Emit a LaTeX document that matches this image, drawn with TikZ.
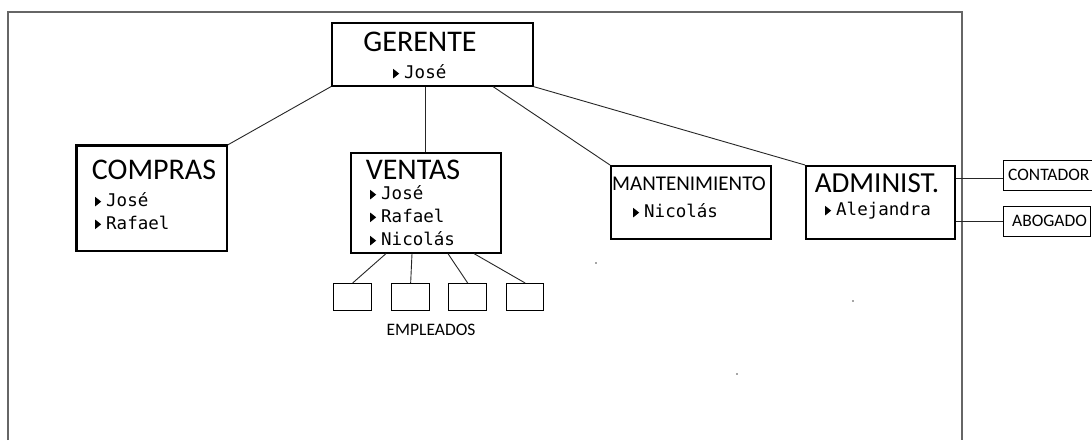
\documentclass[tikz,border=0pt]{standalone}
\usepackage{fontspec}
\setmainfont{Carlito}
\newfontfamily\monof{DejaVu Sans Mono}
\usetikzlibrary{calc}
\newcommand\bul{\tikz[baseline=0pt]{\fill[black] (0pt,0.5pt) -- (0pt,10pt) -- (6pt,5.25pt) -- cycle;}\hspace{5pt}}
\tikzset{
  box/.style={draw=black, line width=1.6pt, anchor=north west, inner sep=0pt, fill=white},
  emp/.style={draw=black, line width=1.3pt, anchor=north west, inner sep=0pt, minimum width=38pt, minimum height=27pt},
  ttl/.style={inner sep=0pt, font=\fontsize{30}{30}\selectfont},
  itm/.style={inner sep=0pt, anchor=west, font=\monof\fontsize{17.5}{17.5}\selectfont},
  small/.style={inner sep=0pt, font=\fontsize{17.5}{17.5}\selectfont},
  conn/.style={draw=black!85, line width=0.9pt},
}
\begin{document}
\begin{tikzpicture}[x=1pt,y=-1pt]
\useasboundingbox (0,0) rectangle (1092,440);
\fill[white] (0,0) rectangle (1092,440);
% outer frame
\draw[black!60, line width=1.4pt] (8,440) -- (8,12) -- (962,12) -- (962,440);
% boxes
\node[box, minimum width=201pt, minimum height=63pt] (ger) at (331,22) {};
\node[box, minimum width=150pt, minimum height=105pt] (comp) at (76,145) {};
\draw[line width=2.6pt] (comp.south west) -- (comp.north west) -- (comp.north east);
\node[box, minimum width=150pt, minimum height=100pt] (ven) at (350,152) {};
\node[box, minimum width=160pt, minimum height=73pt] (mant) at (610,165) {};
\node[box, minimum width=149pt, minimum height=73pt] (adm) at (805,165) {};
\node[box, line width=1.2pt, minimum width=100pt, minimum height=30pt] (cont) at (1003,160) {};
\node[box, line width=1.2pt, minimum width=87pt, minimum height=30pt] (abo) at (1003,206) {};
% employee boxes
\node[emp] (e1) at (333,283) {};
\node[emp] (e2) at (391,283) {};
\node[emp] (e3) at (448,283) {};
\node[emp, minimum width=37pt] (e4) at (506,283) {};
% texts
\node[ttl] (tger) at (420,42) {GERENTE};
\node[itm] (iger) at (393,72) {\bul José};
\node[ttl] (tcomp) at (154,170) {COMPRAS};
\node[itm] (icomp1) at (95,200) {\bul José};
\node[itm] (icomp2) at (95,223) {\bul Rafael};
\node[ttl] (tven) at (413,170) {VENTAS};
\node[itm] (iven1) at (370,193) {\bul José};
\node[itm] (iven2) at (370,216) {\bul Rafael};
\node[itm] (iven3) at (370,239) {\bul Nicolás};
\node[inner sep=0pt, font=\fontsize{21}{21}\selectfont] (tmant) at (689,184) {MANTENIMIENTO};
\node[itm] (imant) at (633,211) {\bul Nicolás};
\node[ttl, font=\fontsize{29}{29}\selectfont] (tadm) at (877,183) {ADMINIST.};
\node[itm] (iadm) at (825,211) {\bul Alejandra};
\node[small, anchor=west] (tcont) at (1008,175) {CONTADOR};
\node[small, anchor=west] (tabo) at (1012,221) {ABOGADO};
\node[small] (templ) at (431,330) {EMPLEADOS};
% connectors
\draw[conn] (ger.south west) -- (comp.north east);
\draw[conn] (ven.north |- ger.south) -- (ven.north);
\draw[conn] ($(ger.south west)+(162,0)$) -- (mant.north west);
\draw[conn] (ger.south east) -- (adm.north west);
\draw[conn] ($(ven.south west)+(36,0)$) -- (e1.north);
\draw[conn] ($(ven.south west)+(62,0)$) -- (e2.north);
\draw[conn] ($(ven.south west)+(98,0)$) -- (e3.north);
\draw[conn] ($(ven.south west)+(124,0)$) -- (e4.north);
\draw[conn] ($(cont.west -| adm.east)+(0,3)$) -- ($(cont.west)+(0,3)$);
\draw[conn] (abo.west -| adm.east) -- (abo.west);
% stray specks
\fill[black!70] (596,263) circle (0.8pt);
\fill[black!70] (853,301) circle (0.8pt);
\fill[black!70] (737,374) circle (0.8pt);
\end{tikzpicture}
\end{document}
